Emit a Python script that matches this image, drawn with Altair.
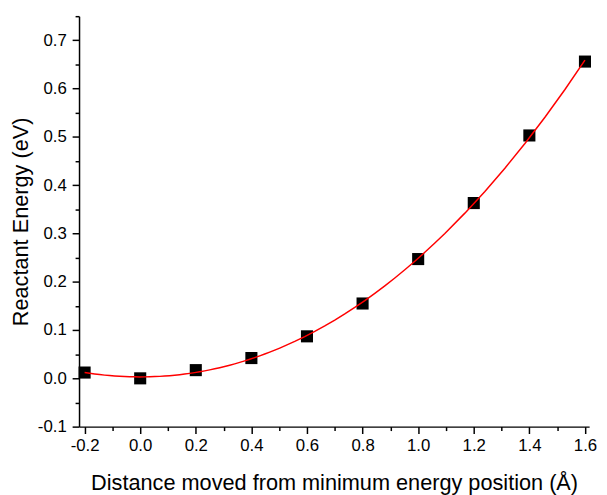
import altair as alt
import pandas as pd

# Data
distance = [-0.2, 0.0, 0.2, 0.4, 0.6, 0.8, 1.0, 1.2, 1.4, 1.6]
energy = [0.012, 0.000, 0.017, 0.042, 0.087, 0.155, 0.247, 0.363, 0.503, 0.656]

x_major_ticks = [-0.2, 0.0, 0.2, 0.4, 0.6, 0.8, 1.0, 1.2, 1.4, 1.6]
x_minor_ticks = [-0.1, 0.1, 0.3, 0.5, 0.7, 0.9, 1.1, 1.3, 1.5]
y_major_ticks = [-0.1, 0.0, 0.1, 0.2, 0.3, 0.4, 0.5, 0.6, 0.7]
y_minor_ticks = [-0.05, 0.05, 0.15, 0.25, 0.35, 0.45, 0.55, 0.65, 0.75]

df = pd.DataFrame({"x": distance, "y": energy})

FONT = "Liberation Sans"
LBL = "replace(format(datum.value, '.1f'), '\u2212', '-')"

x_axis = alt.Axis(
    orient="bottom",
    values=x_major_ticks,
    title="Distance moved from minimum energy position (Å)",
    labelExpr=LBL,
    tickSize=7, tickWidth=1.5, tickColor="black",
    domainColor="black", domainWidth=1.5,
    labelFont=FONT, labelFontSize=17, labelColor="black", labelPadding=4,
    titleFont=FONT, titleFontSize=22, titleFontWeight="normal",
    titleColor="black", titlePadding=20,
    grid=False, labelFlush=False, labelOverlap=False,
)
y_axis = alt.Axis(
    orient="left",
    values=y_major_ticks,
    title="Reactant Energy (eV)",
    labelExpr=LBL,
    tickSize=7, tickWidth=1.5, tickColor="black",
    domainColor="black", domainWidth=1.5,
    labelFont=FONT, labelFontSize=17, labelColor="black", labelPadding=6,
    titleFont=FONT, titleFontSize=22, titleFontWeight="normal",
    titleColor="black", titlePadding=5,
    grid=False, labelFlush=False, labelOverlap=False,
)
x_minor_axis = alt.Axis(
    orient="bottom", values=x_minor_ticks, title=None, labels=False,
    domain=False, grid=False, tickSize=4, tickWidth=1.5, tickColor="black",
)
y_minor_axis = alt.Axis(
    orient="left", values=y_minor_ticks, title=None, labels=False,
    domain=False, grid=False, tickSize=4, tickWidth=1.5, tickColor="black",
)

xs = alt.Scale(domain=[-0.22, 1.615], nice=False, zero=False)
ys = alt.Scale(domain=[-0.1, 0.75], nice=False, zero=False)

base = alt.Chart(df)

points = base.mark_point(shape="square", filled=True, size=150,
                         color="black", opacity=1).encode(
    x=alt.X("x:Q", scale=xs, axis=x_axis),
    y=alt.Y("y:Q", scale=ys, axis=y_axis),
)

fit = base.transform_regression(
    "x", "y", method="poly", order=3, extent=[-0.2, 1.6]
).mark_line(color="red", strokeWidth=1.5).encode(
    x=alt.X("x:Q", scale=xs, axis=x_minor_axis),
    y=alt.Y("y:Q", scale=ys, axis=y_minor_axis),
)

chart = alt.layer(points, fit).resolve_axis(
    x="independent", y="independent"
).properties(
    width=517, height=416,
    autosize="none",
    padding={"left": 72, "top": 5, "right": 10, "bottom": 66},
).configure_view(stroke=None)

chart.save("out.html", embed_options={"renderer": "svg", "actions": False})
